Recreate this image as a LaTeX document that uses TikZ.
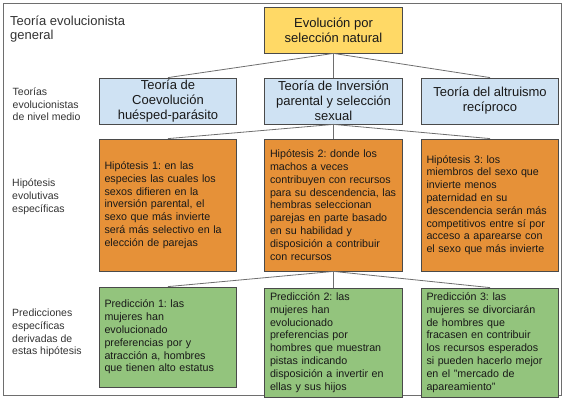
\documentclass[tikz,border=0pt]{standalone}
\usepackage{fontspec}
\setmainfont{Liberation Sans}
\usepackage{tikz}
\usetikzlibrary{calc}
\definecolor{amarillo}{HTML}{FFD966}
\definecolor{azul}{HTML}{CFE2F3}
\definecolor{naranja}{HTML}{E69138}
\definecolor{verde}{HTML}{93C47D}
\definecolor{borde}{HTML}{4A4A4A}
\definecolor{linea}{HTML}{6E6E6E}
\frenchspacing

\begin{document}
\begin{tikzpicture}[x=1pt,y=-1pt,
  caja/.style={draw=borde, line width=0.8pt, inner sep=0pt, minimum width=137.5pt, text=black!90},
  teocaja/.style={caja, minimum height=46pt, align=center, font=\fontsize{13}{15}\selectfont},
  hipcaja/.style={caja, fill=naranja, minimum height=132pt, text width=127pt, align=left, font=\fontsize{10.7}{12.8}\selectfont},
  predcaja/.style={caja, fill=verde, text width=127pt, align=left, font=\fontsize{10.7}{12.8}\selectfont},
  nivel/.style={anchor=north west, inner sep=0pt, align=left, text=black!80, font=\fontsize{10.5}{12.6}\selectfont},
  rama/.style={draw=linea, line width=0.8pt}]
\useasboundingbox (0,0) rectangle (567,403);
\draw[draw=linea, line width=0.8pt] (3.5,3.5) rectangle (561.5,395.5);

% niveles
\node[nivel, font=\fontsize{13}{14.3}\selectfont] (Lab0) at (10,15.5) {Teoría evolucionista\\general};
\node[nivel] (Lab1) at (12.5,87.5) {Teorías\\evolucionistas\\de nivel medio};
\node[nivel] (Lab2) at (12,179) {Hipótesis\\evolutivas\\específicas};
\node[nivel] (Lab3) at (12,309) {Predicciones\\específicas\\derivadas de\\estas hipótesis};

% teorias
\node[teocaja, fill=amarillo] at (333.5,30) (Evo) {Evolución por\\selección natural};
\node[teocaja, fill=azul] at (168,101) (Teo1) {Teoría de\\Coevolución\\huésped-parásito};
\node[teocaja, fill=azul] at (333.5,101) (Teo2) {Teoría de Inversión\\parental y selección\\sexual};
\node[teocaja, fill=azul] at (490,101) (Teo3) {Teoría del altruismo\\recíproco};

% hipotesis
\node[hipcaja] at (168,205) (Hip1) {Hipótesis 1: en las\\especies las cuales los\\sexos difieren en la\\inversión parental, el\\sexo que más invierte\\será más selectivo en la\\elección de parejas};
\node[hipcaja] at (333.5,205) (Hip2) {Hipótesis 2: donde los\\machos a veces\\contribuyen con recursos\\para su descendencia, las\\hembras seleccionan\\parejas en parte basado\\en su habilidad y\\disposición a contribuir\\con recursos};
\node[hipcaja] at (490,205) (Hip3) {Hipótesis 3: los\\miembros del sexo que\\invierte menos\\paternidad en su\\descendencia serán más\\competitivos entre sí por\\acceso a aparearse con\\el sexo que más invierte};

% predicciones
\node[predcaja, minimum height=100pt] at (168,337) (Pred1) {Predicción 1: las\\mujeres han\\evolucionado\\preferencias por y\\atracción a, hombres\\que tienen alto estatus};
\node[predcaja, minimum height=109pt] at (333.5,342.5) (Pred2) {Predicción 2: las\\mujeres han\\evolucionado\\preferencias por\\hombres que muestran\\pistas indicando\\disposición a invertir en\\ellas y sus hijos};
\node[predcaja, minimum height=109pt] at (490,342.5) (Pred3) {Predicción 3: las\\mujeres se divorciarán\\de hombres que\\fracasen en contribuir\\los recursos esperados\\si pueden hacerlo mejor\\en el "mercado de\\apareamiento"};

\draw[rama] (Evo.south) -- (Teo1.north);
\draw[rama] (Evo.south) -- (Teo2.north);
\draw[rama] (Evo.south) -- (Teo3.north);
\draw[rama] (Teo2.south) -- (Hip1.north);
\draw[rama] (Teo2.south) -- (Hip2.north);
\draw[rama] (Teo2.south) -- (Hip3.north);
\draw[rama] (Hip2.south) -- (Pred1.north);
\draw[rama] (Hip2.south) -- (Pred2.north);
\draw[rama] (Hip2.south) -- (Pred3.north);
\end{tikzpicture}
\end{document}
